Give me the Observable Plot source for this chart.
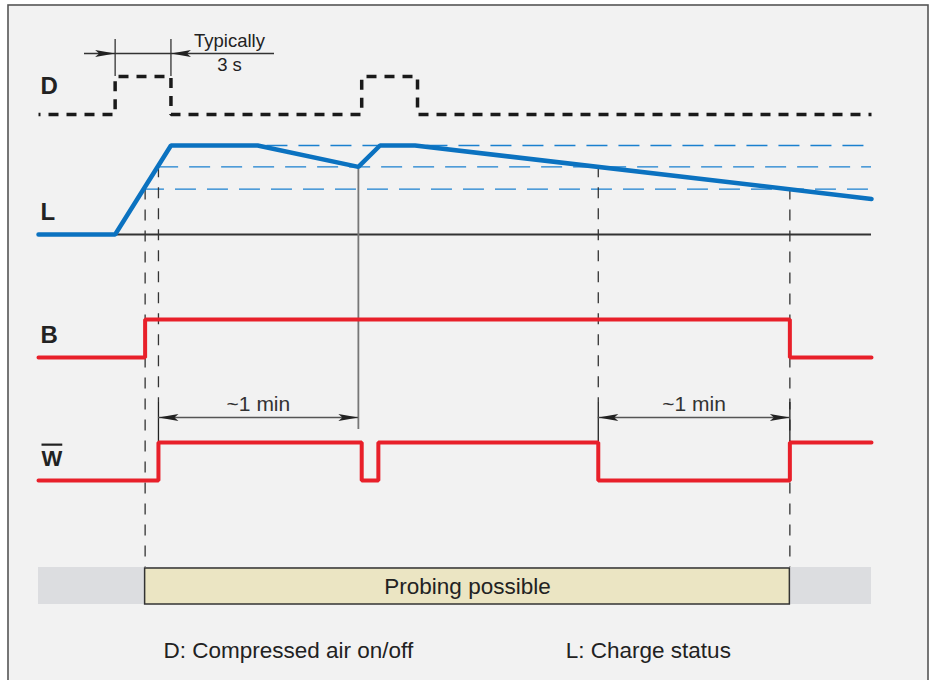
<!DOCTYPE html>
<html><head><meta charset="utf-8">
<script src="https://cdn.jsdelivr.net/npm/d3@7"></script>
<script src="https://cdn.jsdelivr.net/npm/@observablehq/plot@0.6"></script>
<style>
body{margin:0;background:#fff;}
#chart svg{display:block;}
</style></head><body><div id="chart"></div>
<script>
// ---------- data (time in arbitrary units, 0..100) ----------
const tEnd = 100;
const dEdges = [9.2, 15.9, 38.8, 45.5];            // D: compressed air toggles (start off)
const bEdges = [12.8, 90.2];                        // B toggles (start low)
const wEdges = [14.4, 38.8, 40.8, 67.2, 90.2];      // W̄ toggles (start low)
const chargeT = [0, 9.2, 15.9, 26.3, 38.4, 41.0, 45.2, 100];   // L: charge status
const chargeV = [0, 0, 1, 1, 0.76, 1, 1, 0.40];
const thresholdLevels = [1.0, 0.76, 0.51];
const thresholdStart = [15.9, 14.3, 12.6];
const signalLabels = ["D", "L", "B", "W"];
const probeWindow = [12.8, 90.2];
const oneMinSpans = [[14.4, 38.4], [67.2, 90.2]];
const typicalSpan = [9.2, 15.9];
const footerTexts = ["D: Compressed air on/off", "L: Charge status"];
const footerT = [15.0, 63.3];

// ---------- layout ----------
const rows = {D: {base: 114, amp: 38}, L: {base: 234, amp: 89}, B: {base: 357, amp: 38}, W: {base: 480, amp: 38}};
const yOf = (row, v) => rows[row].base - v * rows[row].amp;
const dimY = 417, extTop = 402, bandTop = 567, bandBottom = 604;
const font = "Liberation Sans, Arial, sans-serif";
const red = "#e8202a", blue = "#0b72c0", ink = "#222";

function steps(edges) {
  const pts = [{t: 0, v: 0}];
  let v = 0;
  for (const e of edges) { v = 1 - v; pts.push({t: e, v}); }
  pts.push({t: tEnd, v});
  return pts;
}
const D = steps(dEdges), B = steps(bEdges), W = steps(wEdges);
const L = chargeT.map((t, i) => ({t, v: chargeV[i]}));
const thresholds = thresholdLevels.map((v, i) => ({v, t1: thresholdStart[i]}));

// markers
const dashedMarkers = [
  {t: probeWindow[0], y1: yOf("L", thresholdLevels[2]), y2: bandTop},
  {t: wEdges[0], y1: yOf("L", thresholdLevels[1]), y2: extTop},
  {t: wEdges[3], y1: yOf("L", thresholdLevels[1]), y2: extTop},
  {t: probeWindow[1], y1: yOf("L", thresholdLevels[2]), y2: bandTop}
];
const extLines = [
  {t: oneMinSpans[0][0], y1: extTop, y2: rows.W.base - rows.W.amp},
  {t: oneMinSpans[1][0], y1: extTop, y2: rows.W.base - rows.W.amp},
  {t: oneMinSpans[1][1], y1: extTop, y2: rows.W.base - rows.W.amp}
];

const arrowHead = {draw(ctx) { const l = 20, w = 3.6; ctx.moveTo(0, 0); ctx.lineTo(-l, -w); ctx.lineTo(-l * 0.8, 0); ctx.lineTo(-l, w); ctx.closePath(); }};
const arrows = [];
for (const [a, b] of oneMinSpans) { arrows.push({t: a, y: dimY, rot: 180}, {t: b, y: dimY, rot: 0}); }
arrows.push({t: typicalSpan[0], y: 53, rot: 0}, {t: typicalSpan[1], y: 53, rot: 180});

const xs = d3.scaleLinear().domain([0, 100]).range([38, 871]);
const tAt = px => xs.invert(px);

const chart = Plot.plot({
  width: 931, height: 680,
  marginTop: 0, marginRight: 0, marginBottom: 0, marginLeft: 0,
  x: {domain: [0, 100], range: [38, 871], axis: null},
  y: {domain: [0, 680], range: [0, 680], axis: null},
  style: {background: "#fff", fontFamily: font, overflow: "visible"},
  marks: [
    // frame
    Plot.rect([0], {x1: tAt(8), x2: tAt(928), y1: 5, y2: 700, fill: "#f2f2f2", stroke: "#555", strokeWidth: 1.6}),
    // threshold dashed lines
    Plot.ruleY(thresholds, {y: d => yOf("L", d.v), x1: "t1", x2: tEnd, stroke: "#1a80cf", strokeWidth: 1.4, strokeDasharray: "21,11"}),
    // L baseline
    Plot.ruleY([0], {y: yOf("L", 0), x1: 0, x2: tEnd, stroke: "#333", strokeWidth: 2}),
    // vertical dashed markers
    Plot.ruleX(dashedMarkers, {x: "t", y1: "y1", y2: "y2", stroke: "#333", strokeWidth: 1.3, strokeDasharray: "11,10"}),
    Plot.ruleX(extLines, {x: "t", y1: "y1", y2: "y2", stroke: "#222", strokeWidth: 1.3}),
    // gray marker at charge dip
    Plot.ruleX([chargeT[4]], {x: d => d, y1: yOf("L", chargeV[4]), y2: 429, stroke: "#777", strokeWidth: 1.8}),
    // dimension lines
    Plot.ruleY(oneMinSpans, {y: dimY, x1: d => d[0], x2: d => d[1], stroke: "#555", strokeWidth: 1.5}),
    Plot.ruleY([0], {y: 53, x1: tAt(84), x2: tAt(274), stroke: "#333", strokeWidth: 1.3}),
    Plot.ruleX(typicalSpan, {x: d => d, y1: 39, y2: yOf("D", 1), stroke: "#333", strokeWidth: 1.3}),
    Plot.dot(arrows, {x: "t", y: "y", symbol: arrowHead, rotate: "rot", fill: ink, stroke: null, r: 5}),
    // signals
    Plot.line(D, {x: "t", y: d => yOf("D", d.v), curve: "step-after", stroke: "#1a1a1a", strokeWidth: 3.5, strokeDasharray: "10,8", strokeDashoffset: 8, strokeLinejoin: "miter", strokeLinecap: "butt"}),
    Plot.line(L, {x: "t", y: d => yOf("L", d.v), stroke: blue, strokeWidth: 4.5, strokeLinejoin: "miter"}),
    Plot.line(B, {x: "t", y: d => yOf("B", d.v), curve: "step-after", stroke: red, strokeWidth: 4, strokeLinejoin: "miter"}),
    Plot.line(W, {x: "t", y: d => yOf("W", d.v), curve: "step-after", stroke: red, strokeWidth: 4, strokeLinejoin: "miter"}),
    // band
    Plot.rect([0], {x1: 0, x2: tEnd, y1: bandTop, y2: bandBottom, fill: "#dcdde0"}),
    Plot.rect([0], {x1: probeWindow[0], x2: probeWindow[1], y1: bandTop + 1, y2: bandBottom, fill: "#ebe5c3", stroke: "#333", strokeWidth: 1.5}),
    Plot.text(["Probing possible"], {x: (probeWindow[0] + probeWindow[1]) / 2, y: 586, fontSize: 22.5, fill: ink, lineAnchor: "middle"}),
    // labels
    Plot.text(["D", "L", "B"], {x: 0, dx: 2, y: d => ({D: 86, L: 212, B: 335})[d], text: d => d, textAnchor: "start", fontSize: 24, fontWeight: "bold", fill: ink}),
    Plot.text(["W"], {x: 0, dx: 3, y: 458, textAnchor: "start", fontSize: 22, fontWeight: "bold", fill: ink}),
    // annotations
    Plot.text(["Typically"], {x: tAt(229), y: 41, fontSize: 18.5, fill: ink}),
    Plot.text(["3 s"], {x: tAt(229), y: 65, fontSize: 18.5, fill: ink}),
    Plot.text(oneMinSpans, {x: d => (d[0] + d[1]) / 2, y: 404, text: () => "~1 min", fontSize: 21, fill: "#333"}),
    Plot.text(footerTexts, {x: (d, i) => footerT[i], y: 650, textAnchor: "start", fontSize: 22.5, fill: ink})
  ]
});
d3.select(chart).selectAll("text").filter(function() { return this.textContent === "W"; }).style("text-decoration", "overline");
document.getElementById("chart").appendChild(chart);
</script></body></html>
